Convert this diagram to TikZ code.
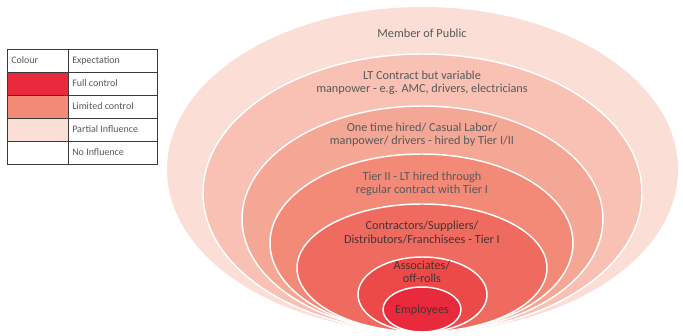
\documentclass[tikz,border=0pt]{standalone}
\usepackage{fontspec}
\setmainfont{Carlito}

\definecolor{ringA}{HTML}{FBDED6}
\definecolor{ringB}{HTML}{F8C1B3}
\definecolor{ringC}{HTML}{F5A796}
\definecolor{ringD}{HTML}{F28A77}
\definecolor{ringE}{HTML}{EF6B5F}
\definecolor{ringF}{HTML}{EC4A48}
\definecolor{ringG}{HTML}{E92A3C}
\definecolor{textgray}{HTML}{58595B}
\definecolor{textdark}{HTML}{4A3234}
\definecolor{gridgray}{HTML}{3A3A3A}

\tikzstyle{ring}=[draw=white,line width=1.1pt]
\tikzstyle{circlelabel}=[align=center,text=textgray,inner sep=0pt,font=\fontsize{9.2}{10}\selectfont]
\tikzstyle{innerlabel}=[circlelabel,text=textdark]
\tikzstyle{legendtext}=[anchor=west,text=textgray,inner sep=0pt,font=\fontsize{7.5}{9}\selectfont]
\tikzstyle{cell}=[draw=gridgray,line width=0.6pt]

\begin{document}
\begin{tikzpicture}[x=0.75pt,y=-0.75pt]
\useasboundingbox (0,0) rectangle (683,336);
% rings, outside in
\fill[ringA] (422.5,169.5) ellipse [x radius=255.5, y radius=162.5];
\filldraw[ring,fill=ringB] (422.5,193) ellipse [x radius=219.5, y radius=139];
\filldraw[ring,fill=ringC] (422.5,219) ellipse [x radius=180.5, y radius=113];
\filldraw[ring,fill=ringD] (421.5,243) ellipse [x radius=151.5, y radius=89];
\filldraw[ring,fill=ringE] (422,268) ellipse [x radius=125, y radius=64];
\filldraw[ring,fill=ringF] (422.5,294.5) ellipse [x radius=64.5, y radius=37.5];
\filldraw[ring,fill=ringG] (422,309.5) ellipse [x radius=39, y radius=22.5];
% ring labels
\node[circlelabel] (public) at (422,33) {Member of Public};
\node[circlelabel] (variable) at (422,83) {LT Contract but variable\\manpower - e.g. AMC, drivers, electricians};
\node[circlelabel] (casual) at (422,135) {One time hired/ Casual Labor/\\manpower/ drivers - hired by Tier I/II};
\node[circlelabel] (tiertwo) at (422,184) {Tier II - LT hired through\\regular contract with Tier I};
\node[innerlabel] (tierone) at (422,232.5) {Contractors/Suppliers/\\Distributors/Franchisees - Tier I};
\node[innerlabel] (associates) at (422,271.5) {Associates/\\off-rolls};
\node[innerlabel] (employees) at (422,310) {Employees};
% legend
\fill[ringG] (7,72) rectangle (68,95);
\fill[ringD] (7,95) rectangle (68,118);
\fill[ringA] (7,118) rectangle (68,141);
\draw[cell] (7,49) rectangle (157,164);
\draw[cell] (68,49) -- (68,164);
\draw[cell] (7,72) -- (157,72);
\draw[cell] (7,95) -- (157,95);
\draw[cell] (7,118) -- (157,118);
\draw[cell] (7,141) -- (157,141);
\node[legendtext] (colhead) at (11,60.5) {Colour};
\node[legendtext] (exphead) at (72,60.5) {Expectation};
\node[legendtext] (full) at (72,83.5) {Full control};
\node[legendtext] (limited) at (72,106.5) {Limited control};
\node[legendtext] (partial) at (72,129.5) {Partial Influence};
\node[legendtext] (none) at (72,152.5) {No Influence};
\end{tikzpicture}
\end{document}
